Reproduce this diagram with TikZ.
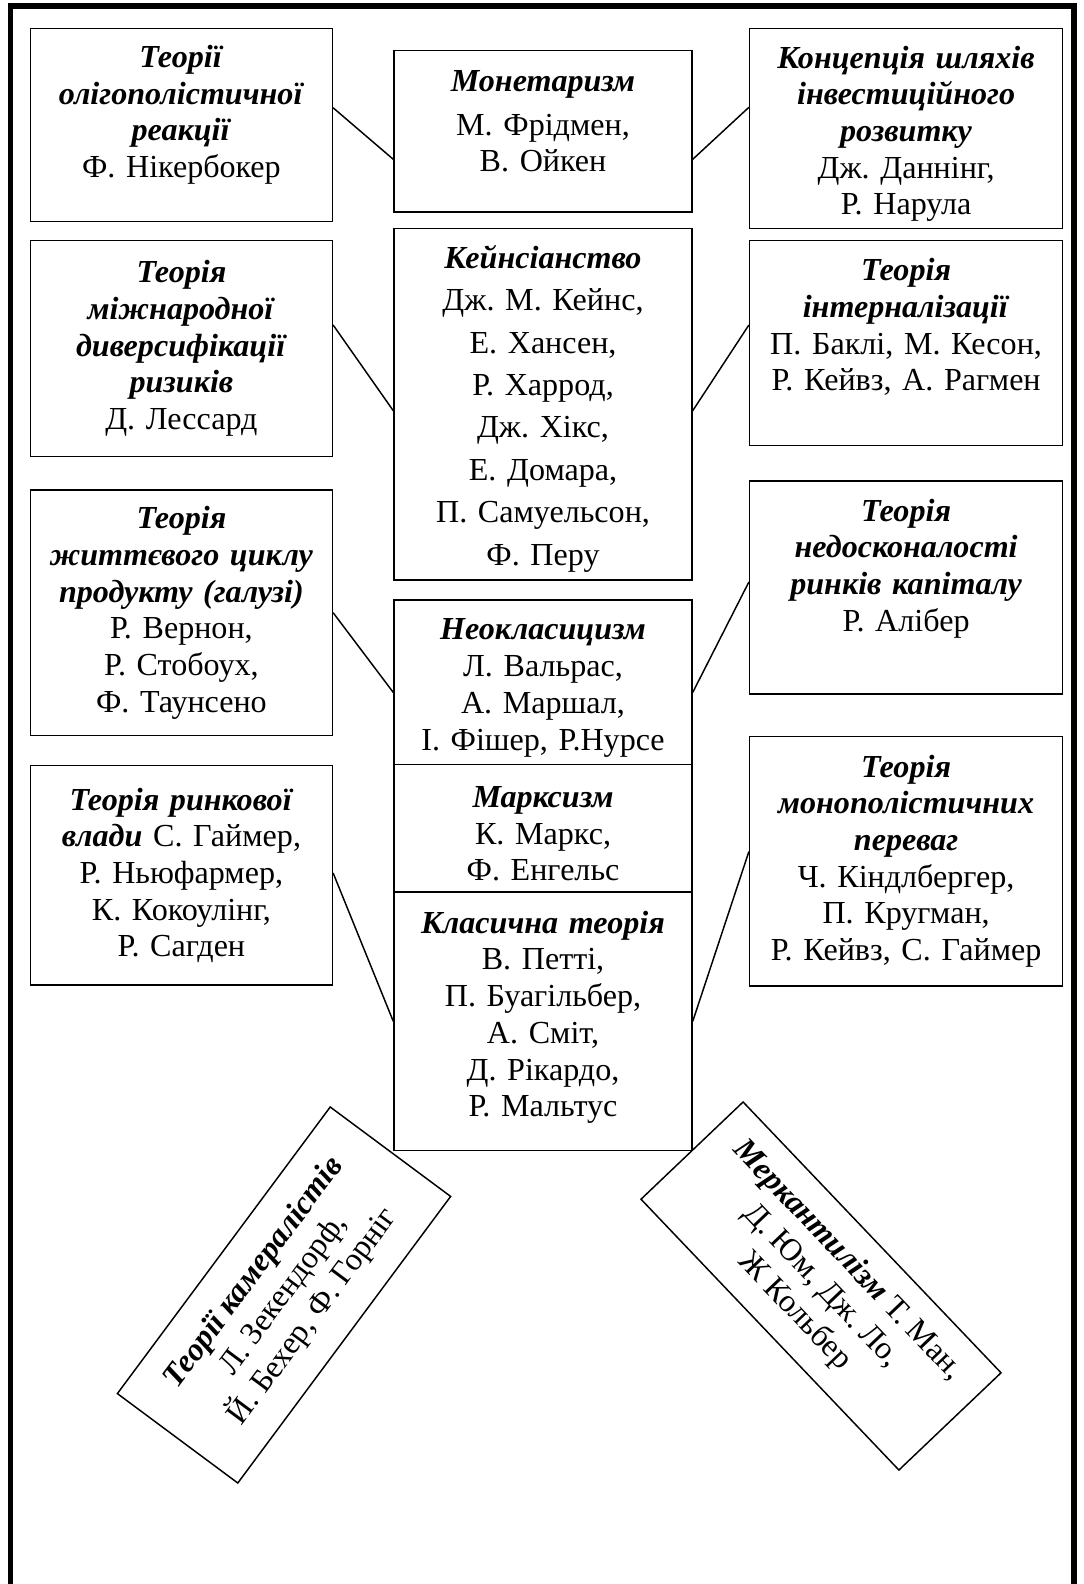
\documentclass[tikz,border=0pt]{standalone}
\usepackage{fontspec}
\setmainfont{Liberation Serif}
\usepackage{tikz}

\newdimen\pxu
\pxu=0.374pt
\newcommand{\sch}[1]{\textbf{\textit{#1}}}
\newcommand{\toppad}[1]{\rule{0pt}{#1}}
\newcommand{\lowpad}[1]{\rule[-#1]{0pt}{0pt}}
\frenchspacing

\begin{document}
\begin{tikzpicture}[x=0.374pt, y=-0.374pt,
  box/.style={draw, line width=0.55pt, align=center, inner sep=0pt,
    font=\fontsize{12}{13.73}\selectfont},
  lcol/.style={box, text width=302\pxu},
  mcol/.style={box, text width=298\pxu},
  rcol/.style={box, text width=313\pxu},
  conn/.style={line width=0.55pt}]

\useasboundingbox (0,0) rectangle (1084,1584);

% outer frame, open at the bottom
\draw[line width=1.9pt] (10.3,1584) -- (10.3,6) -- (1074,6) -- (1074,1584);

% left column
\node[lcol, minimum height=193\pxu] (olig) at (181.4,124.8)
  {\sch{Теорії}\\ \sch{олігополістичної}\\ \sch{реакції}\\ Ф. Нікербокер\lowpad{10pt}};
\node[lcol, minimum height=216\pxu] (divers) at (181.4,348.5)
  {\sch{Теорія}\\ \sch{міжнародної}\\ \sch{диверсифікації}\\ \sch{ризиків}\\ Д. Лессард};
\node[lcol, minimum height=245.4\pxu] (lifecyc) at (181.4,612.7)
  {\sch{Теорія}\\ \sch{життєвого циклу}\\ \sch{продукту (галузі)}\\ Р. Вернон,\\ Р. Стобоух,\\ Ф. Таунсено};
\node[lcol, minimum height=219.3\pxu] (power) at (181.4,875.4)
  {\sch{Теорія ринкової}\\ \sch{влади} С. Гаймер,\\ Р. Ньюфармер,\\ К. Кокоулінг,\\ Р. Сагден};

% middle column
\node[mcol, minimum height=161.7\pxu] (monet) at (543,131.3)
  {\sch{Монетаризм}\\[2.6pt] М. Фрідмен,\\ В. Ойкен\lowpad{7.5pt}};
\node[mcol, minimum height=351.6\pxu, font=\fontsize{12}{15.86}\selectfont] (keynes) at (543,404.1)
  {\toppad{12pt}\sch{Кейнсіанство}\\ Дж. М. Кейнс,\\ Е. Хансен,\\ Р. Харрод,\\ Дж. Хікс,\\ Е. Домара,\\ П. Самуельсон,\\ Ф. Перу};
\node[mcol, minimum height=164.7\pxu] (neocl) at (543,682.4)
  {\toppad{12pt}\sch{Неокласицизм}\\ Л. Вальрас,\\ А. Маршал,\\ І. Фішер, Р.Нурсе};
\node[mcol, minimum height=127.3\pxu] (marx) at (543,828.3)
  {\toppad{12pt}\sch{Марксизм}\\ К. Маркс,\\ Ф. Енгельс};
\node[mcol, minimum height=258.6\pxu] (classic) at (543,1021.3)
  {\sch{Класична теорія}\\ В. Петті,\\ П. Буагільбер,\\ А. Сміт,\\ Д. Рікардо,\\ Р. Мальтус\lowpad{5.6pt}};

% right column
\node[rcol, minimum height=200\pxu] (dunning) at (906.1,128.3)
  {\toppad{12.5pt}\sch{Концепція шляхів}\\ \sch{інвестиційного}\\ \sch{розвитку}\\ Дж. Даннінг,\\ Р. Нарула};
\node[rcol, minimum height=205\pxu] (intern) at (906.1,343)
  {\sch{Теорія}\\ \sch{інтерналізації}\\ П. Баклі, М. Кесон,\\ Р. Кейвз, А. Рагмен\lowpad{13.8pt}};
\node[rcol, minimum height=213\pxu] (imperf) at (906.1,587.4)
  {\sch{Теорія}\\ \sch{недосконалості}\\ \sch{ринків капіталу}\\ Р. Алібер\lowpad{16.8pt}};
\node[rcol, minimum height=249.6\pxu] (monop) at (906.1,861.2)
  {\sch{Теорія}\\ \sch{монополістичних}\\ \sch{переваг}\\ Ч. Кіндлбергер,\\ П. Кругман,\\ Р. Кейвз, С. Гаймер};

% tilted boxes at the bottom
\node[box, rotate=53.4, minimum width=357\pxu, minimum height=150\pxu] (cameral) at (284,1295)
  {\sch{Теорії камералістів}\\ Л. Зекендорф,\\ Й. Бехер, Ф. Горніг};
\node[box, rotate=-46.4, minimum width=374\pxu, minimum height=141\pxu] (mercant) at (821,1286)
  {\sch{Меркантилізм} Т. Ман,\\ Д. Юм, Дж. Ло,\\ Ж Кольбер};

% connectors
\draw[conn] ([yshift=17\pxu]olig.east) -- ([yshift=-28\pxu]monet.west);
\draw[conn] ([yshift=-28\pxu]monet.east) -- ([yshift=21\pxu]dunning.west);
\draw[conn] ([yshift=23.5\pxu]divers.east) -- ([yshift=-6.6\pxu]keynes.west);
\draw[conn] ([yshift=-6.6\pxu]keynes.east) -- ([yshift=18\pxu]intern.west);
\draw[conn] (lifecyc.east) -- ([yshift=-10\pxu]neocl.west);
\draw[conn] ([yshift=-10\pxu]neocl.east) -- ([yshift=5.4\pxu]imperf.west);
\draw[conn] ([yshift=2.4\pxu]power.east) -- (classic.west);
\draw[conn] (classic.east) -- ([yshift=9.6\pxu]monop.west);

\end{tikzpicture}
\end{document}
